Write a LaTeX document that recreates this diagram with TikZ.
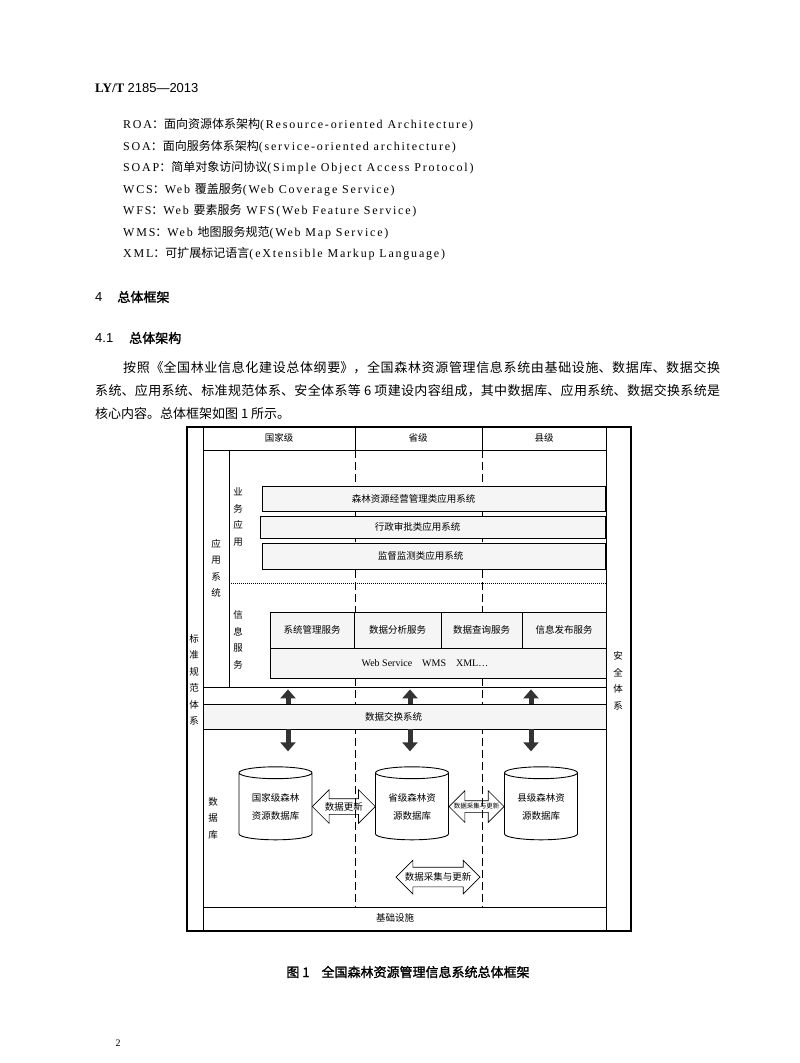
\documentclass[tikz,border=0pt]{standalone}
\usepackage{fontspec}
\setmainfont{Liberation Serif}
\setsansfont{Liberation Sans}
\newfontfamily\zh{Noto Sans CJK SC}
\newfontfamily\zhbf[FakeBold=1.5]{Noto Sans CJK SC}
\newfontfamily\enls[LetterSpace=15]{Liberation Serif}
\newcommand\zhtxt[1]{{\zh\fontsize{12}{14}\selectfont#1}}
\usetikzlibrary{shapes.geometric,shapes.arrows,arrows.meta,calc}

\begin{document}
\begin{tikzpicture}[x=1pt,y=-1pt,font=\zh\fontsize{9.5}{11}\selectfont,
  abbr/.style={anchor=west,inner sep=0pt,font=\enls\fontsize{12}{14}\selectfont},
  head/.style={anchor=west,inner sep=0pt,font=\zhbf\fontsize{13}{15}\selectfont},
  lyr/.style={draw,line width=.8pt,inner sep=0pt},
  appbox/.style={draw,line width=.8pt,fill=black!4},
  vtext/.style={align=center,inner sep=0pt,font=\zh\fontsize{9.5}{16.5}\selectfont},
  levelline/.style={line width=.8pt,dash pattern=on 8pt off 4pt},
  bigarrow/.style={line width=5pt,black!80,-{Triangle[width=15pt,length=9pt]}},
  db/.style={cylinder,shape border rotate=90,draw,line width=.9pt,fill=white,aspect=.25,
    minimum width=73pt,minimum height=73pt,align=center,inner sep=0pt,
    font=\zh\fontsize{9.5}{18}\selectfont},
  dbarrow/.style={double arrow,draw,line width=.7pt,double arrow head extend=9pt,
    inner xsep=0pt,inner ysep=7.5pt}]
  \useasboundingbox[fill=white] (0,0) rectangle (800,1063);

  % Page head and abbreviations
  \node[anchor=west,inner sep=0pt,font=\fontsize{13}{15}\selectfont] (code) at (95,88) {\textbf{LY/T} {\sffamily 2185—2013}};
  \node[abbr] (roa) at (123,125) {ROA\zhtxt{：面向资源体系架构}(Resource-oriented Architecture)};
  \node[abbr] (soa) at (123,147) {SOA\zhtxt{：面向服务体系架构}(service-oriented architecture)};
  \node[abbr] (soap) at (123,168) {SOAP\zhtxt{：简单对象访问协议}(Simple Object Access Protocol)};
  \node[abbr] (wcs) at (123,190) {WCS\zhtxt{：}Web \zhtxt{覆盖服务}(Web Coverage Service)};
  \node[abbr] (wfs) at (123,211) {WFS\zhtxt{：}Web \zhtxt{要素服务} WFS(Web Feature Service)};
  \node[abbr] (wms) at (123,233) {WMS\zhtxt{：}Web \zhtxt{地图服务规范}(Web Map Service)};
  \node[abbr] (xml) at (123,254) {XML\zhtxt{：可扩展标记语言}(eXtensible Markup Language)};

  % Section 4
  \node[head] (sec4) at (95,297) {{\sffamily 4}\hspace{15pt}总体框架};
  \node[head] (sec41) at (95,338) {{\sffamily 4.1}\hspace{16pt}总体架构};
  \node[anchor=north west,inner sep=0pt,text width=625pt,align=justify,
    font=\zh\fontsize{13}{23}\selectfont] (para) at (95,361)
    {\XeTeXlinebreaklocale "zh"\XeTeXlinebreakskip=0pt plus 2pt\hspace*{28pt}按照《全国林业信息化建设总体纲要》，全国森林资源管理信息系统由基础设施、数据库、数据交换\linebreak
    系统、应用系统、标准规范体系、安全体系等 6 项建设内容组成，其中数据库、应用系统、数据交换系统是\linebreak
    核心内容。总体框架如图 1 所示。};

  % Level dividers
  \draw[levelline] (355,450) -- (355,907);
  \draw[levelline] (482,450) -- (482,907);

  % Frame, standards and security columns
  \path[draw,line width=1.1pt] (187,427) rectangle (631,931);
  \draw[line width=.9pt] (203,427) -- (203,931);
  \draw[line width=.9pt] (606,427) -- (606,931);
  \node[vtext] (stdsys) at (194,680) {标\\准\\规\\范\\体\\系};
  \node[vtext] (secsys) at (618,681) {安\\全\\体\\系};

  % Levels
  \draw[line width=.8pt] (203,450) -- (606,450);
  \draw[line width=.8pt] (355,427) -- (355,450) (482,427) -- (482,450);
  \node (nat) at (279,438) {国家级};
  \node (prov) at (418,438) {省级};
  \node (cnty) at (544,438) {县级};

  % Application system
  \node[lyr,minimum width=403pt,minimum height=237pt] (applayer) at (404.5,568.5) {};
  \path[draw,line width=.8pt] (203,450) rectangle (229,687) node[pos=.5,vtext] (appsys) {应\\用\\系\\统};
  \draw[line width=1pt,densely dotted] (229,583) -- (606,583);
  \node[vtext] (biz) at (238,517) {业\\务\\应\\用};
  \path[appbox] (262,486) rectangle (605,511) node[pos=.5,xshift=-20pt] (app1) {森林资源经营管理类应用系统};
  \path[appbox] (260,516) rectangle (605,538) node[pos=.5,xshift=-15pt] (app2) {行政审批类应用系统};
  \path[appbox] (262,543) rectangle (605,569) node[pos=.5,xshift=-13pt] (app3) {监督监测类应用系统};

  % Information services
  \node[vtext] (info) at (238,640) {信\\息\\服\\务};
  \path[appbox] (270,612) rectangle (354,648) node[pos=.5] (svc1) {系统管理服务};
  \path[appbox] (354,612) rectangle (441,648) node[pos=.5] (svc2) {数据分析服务};
  \path[appbox] (441,612) rectangle (522,648) node[pos=.5] (svc3) {数据查询服务};
  \path[appbox] (522,612) rectangle (606,648) node[pos=.5] (svc4) {信息发布服务};
  \path[appbox] (270,648) rectangle (606,678) node[pos=.5,xshift=-13pt,font=\rmfamily\fontsize{10}{12}\selectfont] (web) {Web Service\quad WMS\quad XML…};

  % Data exchange system
  \node[lyr,fill=black!4,minimum width=403pt,minimum height=25pt,
    label={[xshift=-11pt]center:数据交换系统}] (xchg) at (404.5,716.5) {};

  % Databases
  \node[db] (db1) at (275.5,806.5) {国家级森林\\资源数据库};
  \node[db] (db2) at (412,806.5) {省级森林资\\源数据库};
  \node[db] (db3) at (541,806.5) {县级森林资\\源数据库};
  \node[vtext] (dbl) at (213,818) {数\\据\\库};
  \coordinate (ax1) at (288,0);
  \coordinate (ax2) at (410,0);
  \coordinate (ax3) at (531,0);
  \foreach \a/\d in {ax1/db1,ax2/db2,ax3/db3} {
    \draw[bigarrow,shorten >=2pt] (xchg.north -| \a) -- (applayer.south -| \a);
    \draw[bigarrow,shorten >=15pt] (xchg.south -| \a) -- (\d.north -| \a);
  }
  \node[dbarrow,minimum height=63pt,label=center:数据更新] (upd) at ($(db1.east)!.5!(db2.west)$) {};
  \node[dbarrow,minimum height=55pt,double arrow head extend=10pt,inner ysep=5.5pt,
    label={[font=\zh\fontsize{6.5}{7}\selectfont]center:数据采集与更新}] (colupd) at ($(db2.east)!.5!(db3.west)$) {};
  \node[dbarrow,minimum height=84pt,double arrow head extend=7pt,inner ysep=9.5pt,
    label=center:数据采集与更新] (colupd2) at (438,877) {};

  % Infrastructure
  \draw[line width=.8pt] (203,907) -- (606,907);
  \node (infra) at (395,918) {基础设施};

  % Caption and page number
  \node[head,anchor=center] (cap) at (408,972) {图 1\hspace{12pt}全国森林资源管理信息系统总体框架};
  \node[inner sep=0pt,font=\rmfamily\fontsize{10}{12}\selectfont] (pg) at (118,1043) {2};
\end{tikzpicture}
\end{document}
